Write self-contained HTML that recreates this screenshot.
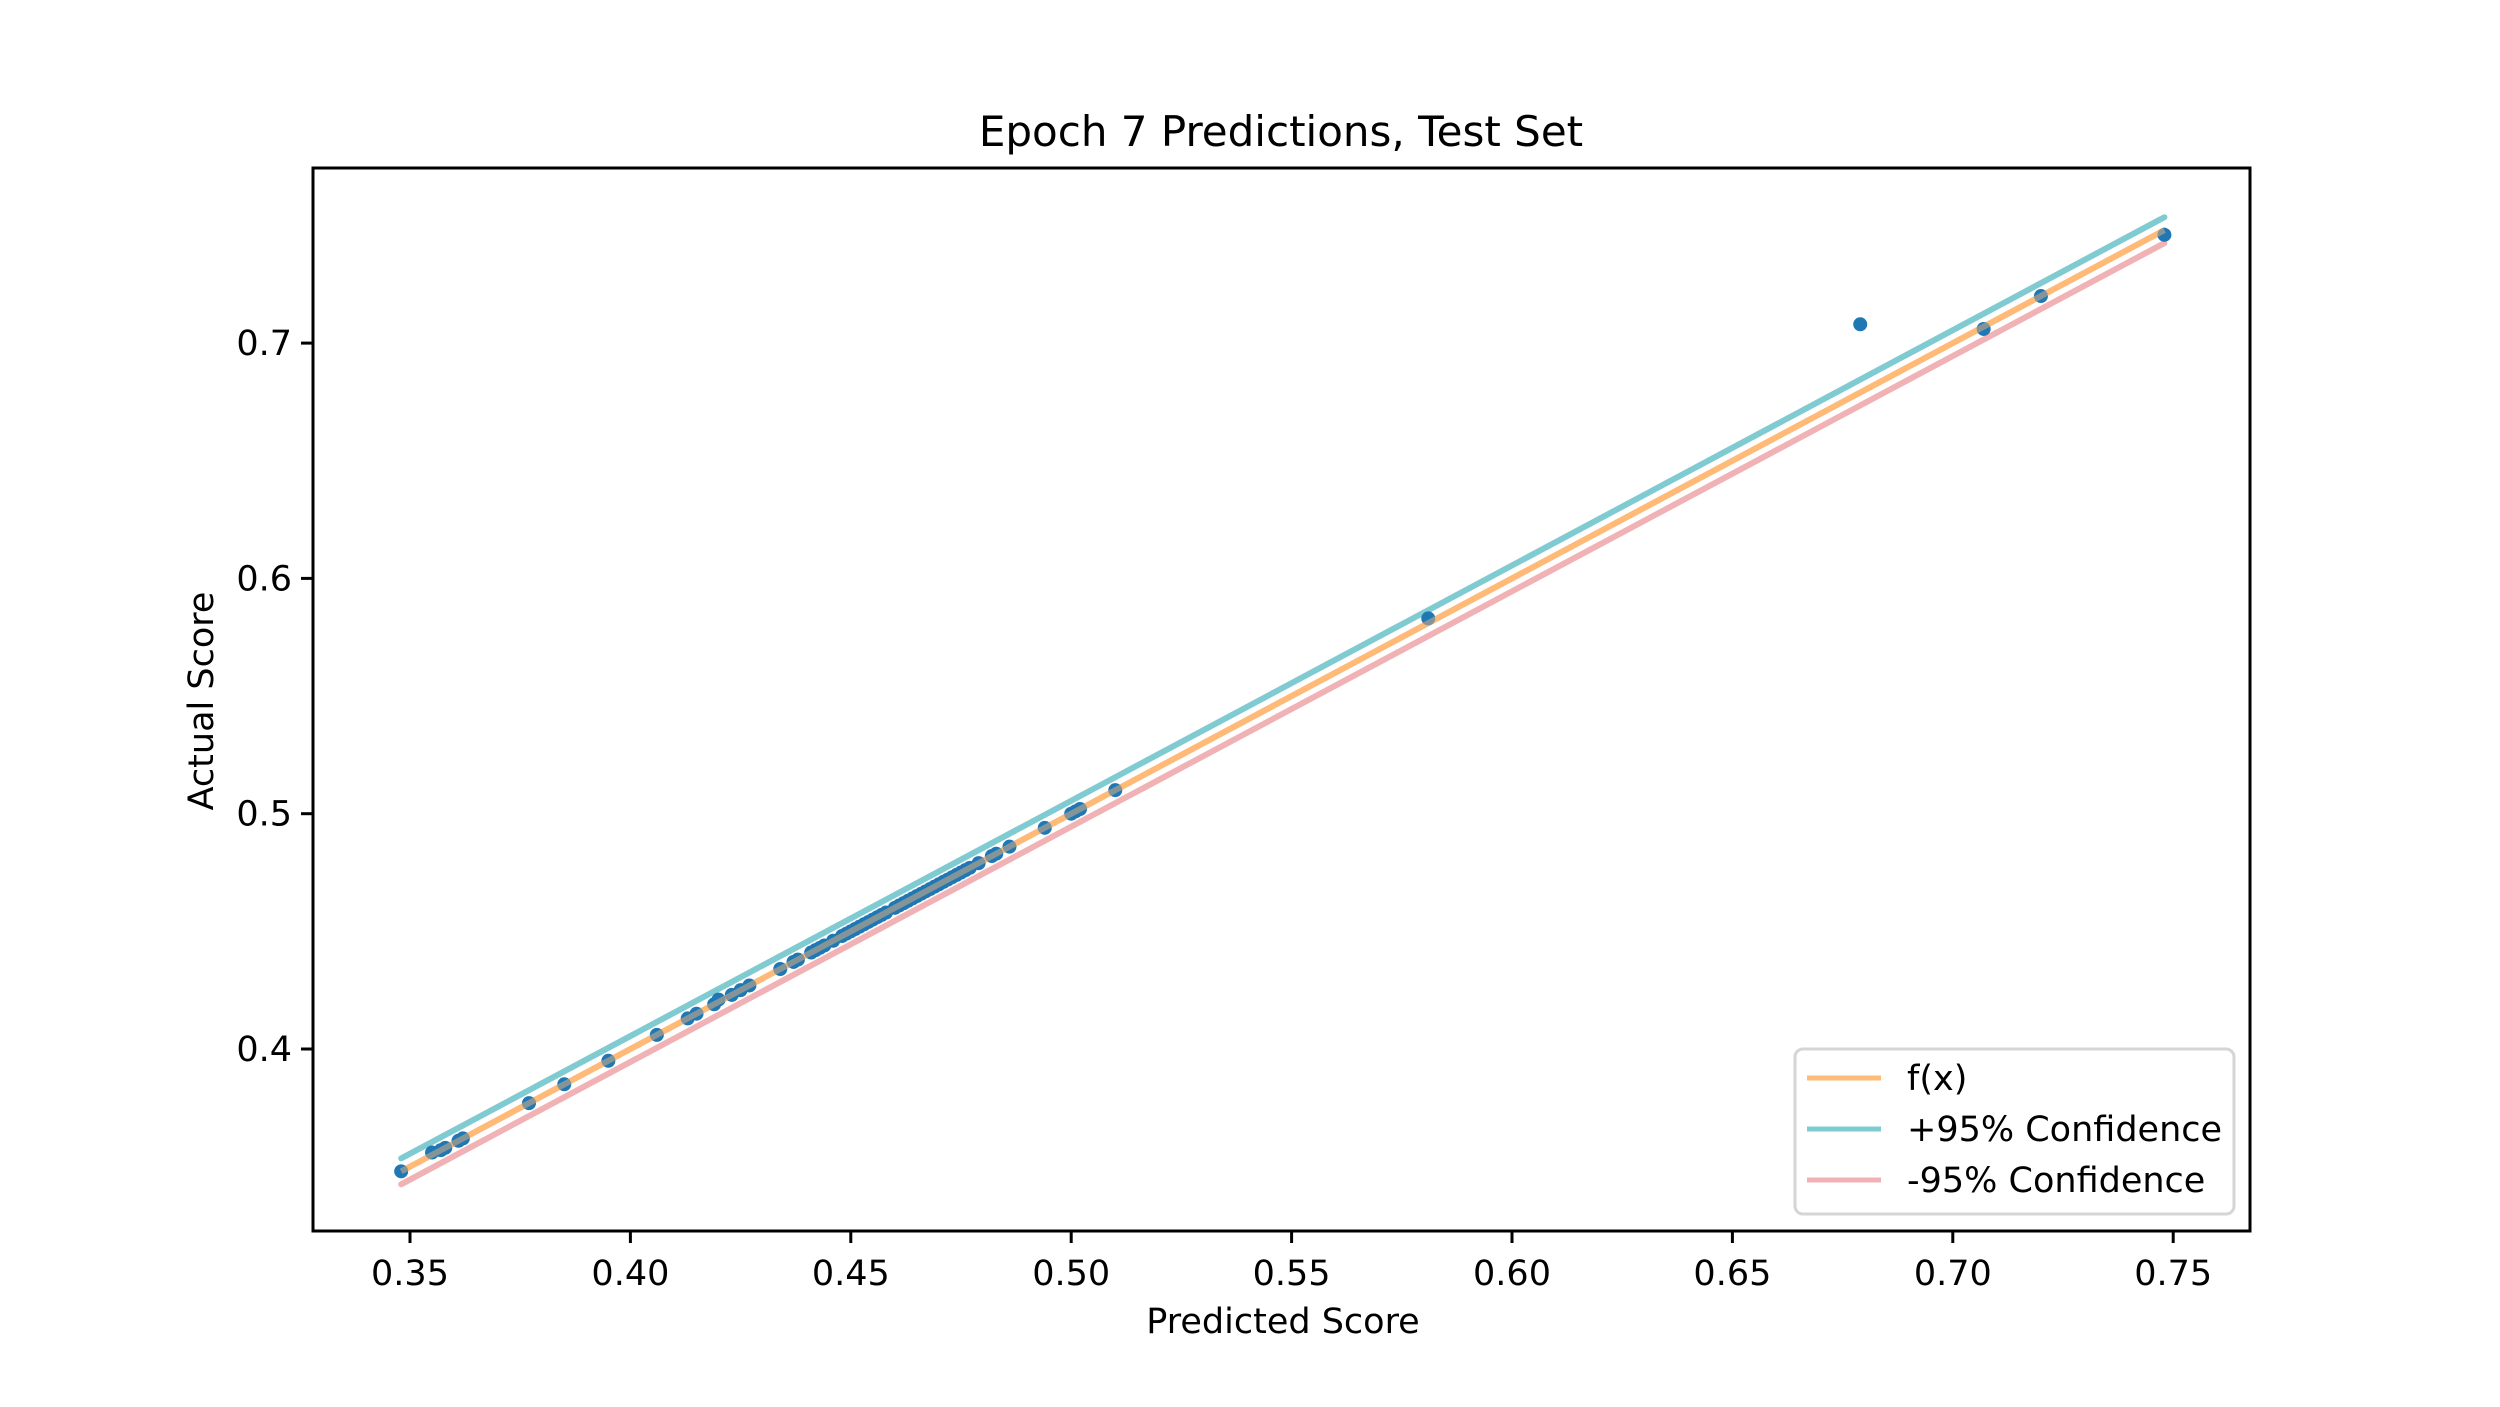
<!DOCTYPE html>
<html><head><meta charset="utf-8"><style>
html,body{margin:0;padding:0;background:#fff}
svg{display:block;font-family:"DejaVu Sans","Liberation Sans",sans-serif}
</style></head><body>
<svg id="chart" width="2500" height="1407" viewBox="0 0 2500 1407">
<rect width="2500" height="1407" fill="#fff"/>
<g id="lines"></g>
<g id="pts"></g>
<rect x="313" y="168" width="1937" height="1063" fill="none" stroke="#000" stroke-width="3"/>
<g id="xt"></g><g id="yt"></g>
<text x="1281" y="146" font-size="42" text-anchor="middle">Epoch 7 Predictions, Test Set</text>
<text x="1283" y="1333" font-size="35" text-anchor="middle">Predicted Score</text>
<text x="0" y="0" font-size="35" text-anchor="middle" transform="translate(213,701) rotate(-90)">Actual Score</text>
<g>
<rect x="1795" y="1049" width="439" height="165" rx="8" fill="#fff" fill-opacity="0.8" stroke="#d5d5d5" stroke-width="3"/>
<line x1="1807" y1="1078" x2="1881" y2="1078" stroke="#ffbb78" stroke-width="5"/>
<text x="1907" y="1090" font-size="35">f(x)</text>
<line x1="1807" y1="1129" x2="1881" y2="1129" stroke="#80cbd1" stroke-width="5"/>
<text x="1907" y="1141" font-size="35">+95% Confidence</text>
<line x1="1807" y1="1180" x2="1881" y2="1180" stroke="#f0b2b5" stroke-width="5"/>
<text x="1907" y="1192" font-size="35">-95% Confidence</text>
</g>
</svg>
<script>
const predicted=[0.348,0.355,0.357,0.358,0.361,0.362,0.377,0.385,0.395,0.406,0.413,0.415,0.419,0.420,0.423,0.425,0.427,0.434,0.437,0.438,0.441,0.442,0.443,0.444,0.446,0.448,0.449,0.450,0.451,0.452,0.453,0.454,0.455,0.456,0.457,0.458,0.460,0.461,0.462,0.463,0.464,0.465,0.466,0.467,0.468,0.469,0.470,0.471,0.472,0.473,0.474,0.475,0.476,0.477,0.479,0.482,0.483,0.486,0.494,0.500,0.501,0.502,0.510,0.581,0.679,0.707,0.720,0.748];
const actual=[0.348,0.356,0.357,0.358,0.361,0.362,0.377,0.385,0.395,0.406,0.413,0.415,0.419,0.421,0.423,0.425,0.427,0.434,0.437,0.438,0.441,0.442,0.443,0.444,0.446,0.448,0.449,0.450,0.451,0.452,0.453,0.454,0.455,0.456,0.457,0.458,0.460,0.461,0.462,0.463,0.464,0.465,0.466,0.467,0.468,0.469,0.470,0.471,0.472,0.473,0.474,0.475,0.476,0.477,0.479,0.482,0.483,0.486,0.494,0.500,0.501,0.502,0.510,0.583,0.708,0.706,0.720,0.746];
const lineRange=[0.348,0.748];
const confDelta=[0.0055];
const xTicks=[0.35,0.40,0.45,0.50,0.55,0.60,0.65,0.70,0.75];
const xTickLabels=["0.35","0.40","0.45","0.50","0.55","0.60","0.65","0.70","0.75"];
const yTicks=[0.4,0.5,0.6,0.7];
const yTickLabels=["0.4","0.5","0.6","0.7"];
const X=v=>410+(v-0.35)*4408;
const Y=v=>1049-(v-0.4)*2353;
const NS="http://www.w3.org/2000/svg";
function mk(t,a,p){const e=document.createElementNS(NS,t);for(const k in a)e.setAttribute(k,a[k]);p.appendChild(e);return e;}
const lg=document.getElementById('lines');
const defs=[[0,'#ffbb78','fx-line'],[confDelta[0],'#80cbd1','upper-confidence-line'],[-confDelta[0],'#f0b2b5','lower-confidence-line']];
for(const [d,c,n] of defs){
 const l=mk('line',{x1:X(lineRange[0]),y1:Y(lineRange[0]+d),x2:X(lineRange[1]),y2:Y(lineRange[1]+d),stroke:c,'stroke-width':6,'stroke-linecap':'round'},lg);
 
 
}
const pg=document.getElementById('pts');
predicted.forEach((p,i)=>{
 const c=mk('circle',{cx:X(p),cy:Y(actual[i]),r:7,fill:'#1f77b4'},pg);
 
 
});
// redraw orange on top semi-transparent like reference
const ov=mk('line',{x1:X(lineRange[0]),y1:Y(lineRange[0]),x2:X(lineRange[1]),y2:Y(lineRange[1]),stroke:'#ffbb78','stroke-width':6,'stroke-opacity':0.45},pg);


const xt=document.getElementById('xt');
xTicks.forEach((v,i)=>{
 const l=mk('line',{x1:X(v),y1:1231,x2:X(v),y2:1243,stroke:'#000','stroke-width':3},xt);
 
 
 const t=mk('text',{x:X(v),y:1285,'font-size':35,'text-anchor':'middle'},xt);
 t.textContent=xTickLabels[i];
 
 
});
const yt=document.getElementById('yt');
yTicks.forEach((v,i)=>{
 const l=mk('line',{x1:301,y1:Y(v),x2:313,y2:Y(v),stroke:'#000','stroke-width':3},yt);
 
 
 const t=mk('text',{x:292,y:Y(v)+12,'font-size':35,'text-anchor':'end'},yt);
 t.textContent=yTickLabels[i];
 
 
});
</script>
</body></html>
